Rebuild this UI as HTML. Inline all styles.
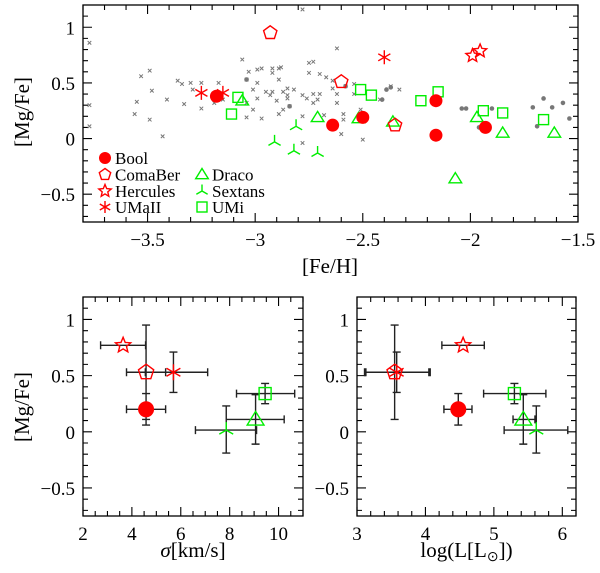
<!DOCTYPE html>
<html><head><meta charset="utf-8"><style>
html,body{margin:0;padding:0;background:#fff;}
svg{display:block;font-family:"Liberation Serif",serif;}
</style></head><body>
<svg id="c" width="600" height="573" viewBox="0 0 600 573" xmlns="http://www.w3.org/2000/svg"></svg>
<script>
// ---- Top panel data: [Fe/H], [Mg/Fe]
const boolFe=[-3.18,-2.64,-2.50,-2.16,-2.16,-1.93];
const boolMg=[0.38,0.12,0.19,0.34,0.03,0.10];
const comaFe=[-2.93,-2.60,-2.35];
const comaMg=[0.95,0.51,0.12];
const hercFe=[-1.99,-1.955];
const hercMg=[0.745,0.787];
const umaFe=[-3.25,-3.15,-2.40];
const umaMg=[0.41,0.41,0.73];
const dracoFe=[-3.06,-2.71,-2.52,-2.36,-2.07,-1.97,-1.85,-1.61];
const dracoMg=[0.34,0.19,0.18,0.15,-0.36,0.19,0.05,0.05];
const sextFe=[-2.91,-2.81,-2.82,-2.71];
const sextMg=[-0.03,0.11,-0.11,-0.13];
const umiFe=[-3.08,-3.11,-2.51,-2.46,-2.23,-2.15,-1.94,-1.85,-1.66];
const umiMg=[0.37,0.22,0.44,0.39,0.34,0.42,0.25,0.23,0.17];
const haloFe=[-3.77,-3.77,-3.77,-3.53,-3.49,-3.55,-3.56,-3.48,-3.49,-3.43,-3.41,-3.36,-3.34,-3.30,-3.33,-3.29,-3.25,-3.25,-3.17,-3.15,-3.19,-3.06,-3.03,-3.04,-2.99,-2.97,-2.99,-3.01,-3.04,-3.01,-2.99,-3.04,-2.97,-2.92,-2.92,-2.89,-2.89,-2.88,-2.93,-2.92,-2.90,-2.95,-2.87,-2.85,-2.85,-2.82,-2.85,-2.84,-2.87,-2.89,-2.78,-2.76,-2.73,-2.75,-2.75,-2.73,-2.78,-2.73,-2.71,-2.70,-2.78,-2.78,-2.70,-2.67,-2.64,-2.64,-2.68,-2.59,-2.59,-2.62,-2.62,-2.62,-2.60,-2.58,-2.54,-2.51,-2.50,-2.54,-2.37,-2.33,-2.42];
const haloMg=[0.86,0.30,0.11,0.56,0.61,0.33,0.22,0.43,0.17,0.02,0.35,0.52,0.49,0.50,0.31,0.44,0.50,0.27,0.50,0.35,0.32,0.71,0.60,0.53,0.50,0.63,0.62,0.44,0.32,0.26,0.36,0.19,0.18,0.63,0.59,0.53,0.63,0.64,0.39,0.42,0.34,0.42,0.42,0.36,0.45,0.44,0.39,0.29,0.26,0.22,0.39,0.36,0.69,0.68,0.59,0.40,1.16,0.32,0.35,0.40,0.20,-0.04,0.58,0.55,0.52,0.45,0.21,0.22,0.17,0.40,0.32,0.81,0.04,0.47,0.49,0.26,-0.01,0.40,0.47,0.44,0.35];
const dotFe=[-2.39,-2.37,-2.41,-2.04,-2.02,-1.96,-1.90,-1.71,-1.66,-1.62,-1.57,-1.54,-1.69,-2.58,-3.04,-2.84];
const dotMg=[0.44,0.46,0.35,0.27,0.27,0.10,0.27,0.28,0.36,0.28,0.32,0.18,0.11,0.47,0.53,0.29];
// ---- Bottom panels: order Bool, ComaBer, Hercules, UMaII, UMi, Draco, Sextans
const galNames=["Bool","ComaBer","Hercules","UMaII","UMi","Draco","Sextans"];
const galMg=[0.20,0.53,0.77,0.53,0.34,0.11,0.015];
const galMgLo=[0.06,0.11,null,0.35,0.25,-0.11,-0.19];
const galMgHi=[0.34,0.95,null,0.71,0.43,0.33,0.23];
const sigma=[4.58,4.58,3.64,5.70,9.45,9.06,7.86];
const sigmaLo=[3.78,3.78,2.72,4.55,8.28,7.86,6.60];
const sigmaHi=[5.38,5.38,4.56,7.10,10.66,10.23,9.10];
const lum=[4.48,3.55,4.55,3.58,5.30,5.43,5.62];
const lumLo=[4.27,3.11,4.24,3.13,4.85,5.28,5.15];
const lumHi=[4.68,4.07,4.86,4.05,5.76,5.60,6.08];
const galMark=["circle","pent","star","ast","square","tri","sext"];

const NS="http://www.w3.org/2000/svg";
const svg=document.getElementById('c');
const RED="#ff0000",GRN="#00ee00",GRAY="#777";
function el(tag,attrs,parent){const e=document.createElementNS(NS,tag);for(const k in attrs)e.setAttribute(k,attrs[k]);(parent||svg).appendChild(e);return e;}
function axis(x0,x1,y0,y1,xmin,xmax,ymin,ymax){return {x:v=>x0+(v-xmin)/(xmax-xmin)*(x1-x0),y:v=>y1-(v-ymin)/(ymax-ymin)*(y1-y0)};}

function marker(g,type,cx,cy,s,color){
  const sw=1.4;
  if(type==="circle"){const e=el('circle',{cx:cx,cy:cy,r:s,fill:color},g);return e;}
  if(type==="pent"){let p=[];for(let i=0;i<5;i++){const a=-Math.PI/2+i*2*Math.PI/5;p.push((cx+s*Math.cos(a)).toFixed(1)+","+(cy+s*Math.sin(a)).toFixed(1));}return el('polygon',{points:p.join(" "),fill:"none",stroke:color,"stroke-width":sw},g);}
  if(type==="star"){let p=[];for(let i=0;i<10;i++){const r=i%2?s*0.45:s;const a=-Math.PI/2+i*Math.PI/5;p.push((cx+r*Math.cos(a)).toFixed(1)+","+(cy+r*Math.sin(a)).toFixed(1));}return el('polygon',{points:p.join(" "),fill:"none",stroke:color,"stroke-width":sw},g);}
  if(type==="ast"){let d="";for(let i=0;i<3;i++){const a=Math.PI/2+i*Math.PI/3;d+=`M${cx+s*Math.cos(a)},${cy+s*Math.sin(a)}L${cx-s*Math.cos(a)},${cy-s*Math.sin(a)}`;}return el('path',{d:d,stroke:color,"stroke-width":sw,fill:"none"},g);}
  if(type==="square"){return el('rect',{x:cx-s,y:cy-s,width:2*s,height:2*s,fill:"none",stroke:color,"stroke-width":sw},g);}
  if(type==="tri"){const h=s;return el('polygon',{points:`${cx},${cy-h} ${cx+h*1.05},${cy+h*0.7} ${cx-h*1.05},${cy+h*0.7}`,fill:"none",stroke:color,"stroke-width":sw},g);}
  if(type==="sext"){let d=`M${cx},${cy}L${cx},${cy-s}M${cx},${cy}L${cx-s*0.87},${cy+s*0.5}M${cx},${cy}L${cx+s*0.87},${cy+s*0.5}`;return el('path',{d:d,stroke:color,"stroke-width":sw,fill:"none"},g);}
  if(type==="cross"){return el('path',{d:`M${cx-s},${cy-s}L${cx+s},${cy+s}M${cx-s},${cy+s}L${cx+s},${cy-s}`,stroke:color,"stroke-width":1},g);}
}

function frame(name,x0,x1,y0,y1,ax,xt,xmin,xmax,xmaj,xmin_,yt,ymin,ymax,ymaj,ymin_,xlabels,ylabels){
  const g=el('g',{});
  
  
  el('rect',{x:x0,y:y0,width:x1-x0,height:y1-y0,fill:"none",stroke:"#000","stroke-width":1.3},g);
  let d="";
  for(let v=Math.ceil(xmin/xmin_-1e-6)*xmin_;v<=xmax+1e-6;v+=xmin_){const px=ax.x(v);const isMaj=Math.abs(v/xmaj-Math.round(v/xmaj))<1e-4;const L=isMaj?9:5;d+=`M${px},${y1}L${px},${y1-L}M${px},${y0}L${px},${y0+L}`;}
  for(let v=Math.ceil(ymin/ymin_-1e-6)*ymin_;v<=ymax+1e-6;v+=ymin_){const py=ax.y(v);const isMaj=Math.abs(v/ymaj-Math.round(v/ymaj))<1e-4;const L=isMaj?9:5;d+=`M${x0},${py}L${x0+L},${py}M${x1},${py}L${x1-L},${py}`;}
  el('path',{d:d,stroke:"#000","stroke-width":1.1,fill:"none"},g);
  xlabels.forEach(v=>{const t=el('text',{x:ax.x(v),y:y1+24,"text-anchor":"middle","font-size":19},g);t.textContent=(v<0?"\u2212":"")+Math.abs(v);});
  ylabels.forEach(v=>{const t=el('text',{x:x0-8,y:ax.y(v)+7,"text-anchor":"end","font-size":19},g);t.textContent=(v<0?"\u2212":"")+Math.abs(v);});
  return g;
}

// ---- Top panel
const T=axis(83,578,5,222,-3.8,-1.5,-0.75,1.2);
frame('top-panel',83,578,5,222,T,0,-3.8,-1.5,0.5,0.1,0,-0.75,1.2,0.5,0.1,[-3.5,-3,-2.5,-2,-1.5],[-0.5,0,0.5,1]);
const gHalo=el('g',{});


haloFe.forEach((v,i)=>marker(gHalo,"cross",T.x(v),T.y(haloMg[i]),1.8,GRAY));
dotFe.forEach((v,i)=>marker(gHalo,"circle",T.x(v),T.y(dotMg[i]),2.3,GRAY));
function series(name,fe,mg,type,s,color){const g=el('g',{});fe.forEach((v,i)=>marker(g,type,T.x(v),T.y(mg[i]),s,color));}
series('series-draco',dracoFe,dracoMg,"tri",6,GRN);
series('series-sextans',sextFe,sextMg,"sext",7,GRN);
series('series-umi',umiFe,umiMg,"square",5,GRN);
series('series-bool',boolFe,boolMg,"circle",6.5,RED);
series('series-comaber',comaFe,comaMg,"pent",7,RED);
series('series-hercules',hercFe,hercMg,"star",7,RED);
series('series-umaii',umaFe,umaMg,"ast",7,RED);

// legend
const leg=el('g',{});


const legItems=[["Bool","circle",105,158,RED,6],["ComaBer","pent",105,174.5,RED,6],["Hercules","star",105,191,RED,6.5],["UMaII","ast",105,207,RED,6],["Draco","tri",202,174.5,GRN,6],["Sextans","sext",202,191,GRN,6.5],["UMi","square",202,207,GRN,5]];
legItems.forEach(it=>{const g=el('g',{},leg);marker(g,it[1],it[2],it[3],it[5],it[4]);const t=el('text',{x:it[2]+10,y:it[3]+6,"font-size":17},g);t.textContent=it[0];});

let t=el('text',{x:330,y:273,"text-anchor":"middle","font-size":21});t.textContent="[Fe/H]";

t=el('text',{x:0,y:0,"text-anchor":"middle","font-size":21,transform:"translate(29,112) rotate(-90)"});t.textContent="[Mg/Fe]";


// ---- Bottom panels
function bottom(name,x0,x1,xmin,xmax,xmaj,xmn,xlabels,vals,lo,hi,title){
  const A=axis(x0,x1,297,516,xmin,xmax,-0.75,1.2);
  frame(name,x0,x1,297,516,A,0,xmin,xmax,xmaj,xmn,0,-0.75,1.2,0.5,0.1,xlabels,[-0.5,0,0.5,1]);
  const ge=el('g',{});
  
  
  let d="";
  vals.forEach((v,i)=>{const px=A.x(v),py=A.y(galMg[i]);const xa=A.x(lo[i]),xb=A.x(hi[i]);d+=`M${xa},${py}L${xb},${py}M${xa},${py-4}L${xa},${py+4}M${xb},${py-4}L${xb},${py+4}`;
    if(galMgLo[i]!==null){const ya=A.y(galMgLo[i]),yb=A.y(galMgHi[i]);d+=`M${px},${ya}L${px},${yb}M${px-4},${ya}L${px+4},${ya}M${px-4},${yb}L${px+4},${yb}`;}});
  el('path',{d:d,stroke:"#222","stroke-width":1.4,fill:"none"},ge);
  vals.forEach((v,i)=>{const col=i<4?RED:GRN;const s=galMark[i]==="circle"?8:(galMark[i]==="square"?6:8);const m=marker(ge,galMark[i],A.x(v),A.y(galMg[i]),s,col);});
  const tt=el('text',{x:(x0+x1)/2,y:557,"text-anchor":"middle","font-size":21});tt.innerHTML=title;
  
}
bottom('sigma-panel',83,303,2,11,2,0.5,[2,4,6,8,10],sigma,sigmaLo,sigmaHi,'<tspan font-style="italic">σ</tspan>[km/s]');
bottom('lum-panel',357,576,3,6.2,1,0.2,[3,4,5,6],lum,lumLo,lumHi,'log(L[L<tspan font-size="14" dy="4">⊙</tspan><tspan dy="-4">])</tspan>');
t=el('text',{x:0,y:0,"text-anchor":"middle","font-size":21,transform:"translate(29,407) rotate(-90)"});t.textContent="[Mg/Fe]";

</script>
</body></html>
